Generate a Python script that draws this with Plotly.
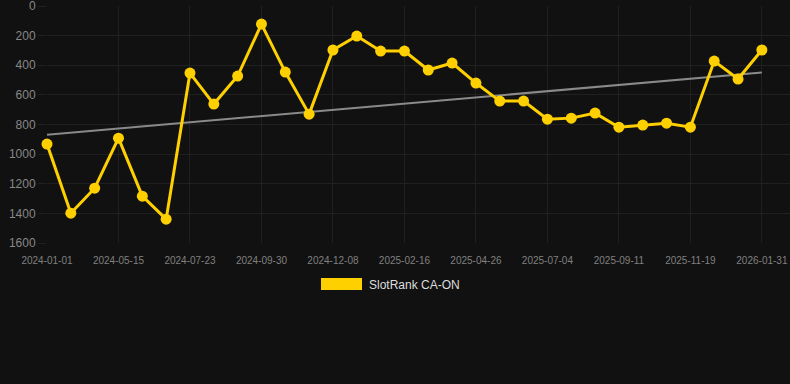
import numpy as np
import plotly.graph_objects as go

# ---- data ----
dates = [
    "2024-01-01", "2024-02-15", "2024-03-30", "2024-05-15", "2024-06-07", "2024-06-30",
    "2024-07-23", "2024-08-15", "2024-09-07", "2024-09-30", "2024-10-23", "2024-11-15",
    "2024-12-08", "2024-12-31", "2025-01-24", "2025-02-16", "2025-03-11", "2025-04-03",
    "2025-04-26", "2025-05-19", "2025-06-11", "2025-07-04", "2025-07-27", "2025-08-19",
    "2025-09-11", "2025-10-04", "2025-10-27", "2025-11-19", "2025-12-13", "2026-01-07",
    "2026-01-31",
]
rank = [
    932, 1399, 1230, 892, 1284, 1439,
    453, 662, 473, 122, 446, 730,
    297, 203, 304, 304, 432, 385,
    520, 642, 642, 764, 757, 723,
    818, 804, 791, 818, 372, 493,
    297,
]
tick_labels = [
    "2024-01-01", "2024-05-15", "2024-07-23", "2024-09-30", "2024-12-08", "2025-02-16",
    "2025-04-26", "2025-07-04", "2025-09-11", "2025-11-19", "2026-01-31",
]
y_ticks = [0, 200, 400, 600, 800, 1000, 1200, 1400, 1600]
series_name = "SlotRank CA-ON"

# ---- trend (linear fit) ----
idx = np.arange(len(rank))
slope, intercept = np.polyfit(idx, rank, 1)
trend = [intercept, intercept + slope * (len(rank) - 1)]

BG = "#111111"
GRID = "#202020"
YELLOW = "#FFD000"

fig = go.Figure()
fig.add_trace(go.Scatter(
    x=[dates[0], dates[-1]], y=trend, mode="lines",
    line=dict(color="#8a8a8a", width=2), showlegend=False, hoverinfo="skip",
))
fig.add_trace(go.Scatter(
    x=dates, y=rank, mode="lines+markers", name=series_name,
    line=dict(color=YELLOW, width=3),
    marker=dict(color=YELLOW, size=11),
    cliponaxis=False, showlegend=False,
))

# legend (Chart.js style box)
W, H = 790, 384
L, R, T, B = 47, 0, 6, 141
pw, ph = W - L - R, H - T - B
def px(x):
    return (x - L) / pw
def py(y):
    return (H - B - y) / ph

fig.add_shape(type="rect", xref="paper", yref="paper",
              x0=px(321), x1=px(362), y0=py(290), y1=py(278),
              fillcolor=YELLOW, line=dict(width=0))
fig.add_annotation(xref="paper", yref="paper", x=px(367), y=py(284.5),
                   text=series_name, showarrow=False, xanchor="left", yanchor="middle",
                   font=dict(color="#dddddd", size=12, family="Liberation Sans, Arial"))

fig.update_layout(
    width=W, height=H,
    margin=dict(l=L, r=R, t=T, b=B),
    paper_bgcolor=BG, plot_bgcolor=BG,
    showlegend=False,
    font=dict(family="Liberation Sans, Arial", color="#888888"),
    xaxis=dict(
        type="category", categoryorder="array", categoryarray=dates,
        range=[0, 31.18],
        tickvals=tick_labels, ticktext=tick_labels,
        showgrid=True, gridcolor=GRID, gridwidth=1,
        ticks="outside", ticklen=8, tickcolor="rgba(0,0,0,0)",
        tickfont=dict(size=10, color="#808080"),
        ticklabeloverflow="allow",
        zeroline=False, showline=False,
    ),
    yaxis=dict(
        range=[1600, 0],
        tickvals=y_ticks,
        showgrid=True, gridcolor=GRID, gridwidth=1,
        ticks="outside", ticklen=8, tickcolor=GRID,
        tickfont=dict(size=12, color="#888888"),
        ticklabeloverflow="allow",
        zeroline=False, showline=False,
    ),
)

fig.write_html(
    "out.html",
    config={"displayModeBar": False},
    post_script="document.body.style.margin='0px';document.body.style.background='#111111';",
)
